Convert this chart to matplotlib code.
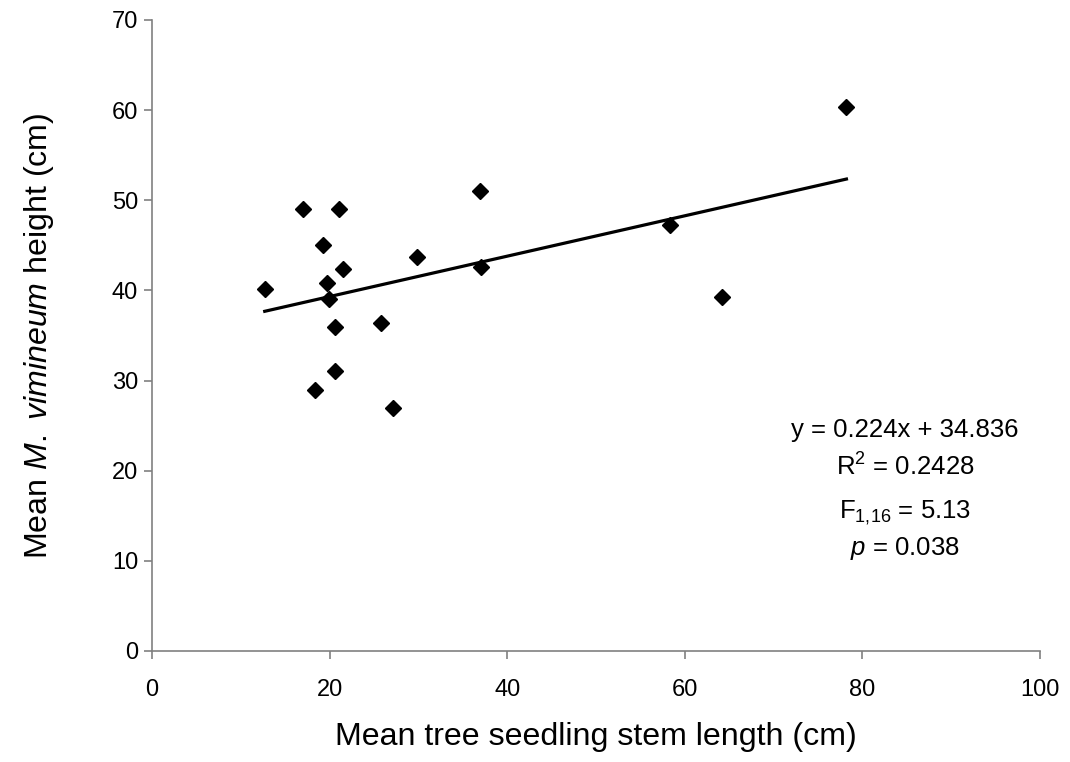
import numpy as np
import matplotlib
matplotlib.use("Agg")
import matplotlib.pyplot as plt

plt.rcParams["font.family"] = ["Liberation Sans", "DejaVu Sans"]
plt.rcParams["mathtext.fontset"] = "custom"
plt.rcParams["mathtext.rm"] = "Liberation Sans"
plt.rcParams["mathtext.it"] = "Liberation Sans:italic"

# Data
stem_length = [12.7, 17.0, 21.1, 19.3, 21.5, 19.7, 19.9, 20.6, 25.8,
               20.6, 18.4, 27.1, 29.8, 36.9, 37.1, 58.3, 64.2, 78.2]
mv_height = [40.2, 49.0, 49.0, 45.0, 42.4, 40.8, 39.1, 35.9, 36.4,
             31.1, 28.9, 26.9, 43.7, 51.0, 42.6, 47.3, 39.3, 60.3]

# trend line from the printed equation
slope = 0.224
intercept = 34.836

stats_lines = ["y = 0.224x + 34.836", r"R$^2$ = 0.2428",
               r"F$_{1{,}16}$ = 5.13", r"$\mathit{p}$ = 0.038"]
stats_y = [24.5, 20.4, 15.3, 11.4]

fig = plt.figure(figsize=(10.7, 7.62), dpi=100)
ax = fig.add_axes([0.142, 0.1457, 0.830, 0.8281])

ax.plot(stem_length, mv_height, linestyle="none", marker="D",
        markersize=8.5, color="black")

xs = np.array([min(stem_length), max(stem_length)])
ax.plot(xs, slope * xs + intercept, color="black", linewidth=2.3)

ax.set_xlim(0, 100)
ax.set_ylim(0, 70)
ax.set_xticks(range(0, 101, 20))
ax.set_yticks(range(0, 71, 10))

for side in ["top", "right"]:
    ax.spines[side].set_visible(False)
for side in ["left", "bottom"]:
    ax.spines[side].set_color("#808080")
    ax.spines[side].set_linewidth(1.2)
ax.tick_params(axis="both", colors="#808080", labelcolor="black",
               labelsize=17, length=6, width=1.2, direction="out")
ax.tick_params(axis="x", pad=14)
ax.tick_params(axis="y", pad=4)

ax.set_xlabel("Mean tree seedling stem length (cm)", fontsize=23.1,
              labelpad=15)
ax.set_ylabel(r"Mean $\mathit{M.}$ $\mathit{vimineum}$ height (cm)",
              fontsize=23.1, labelpad=40)

for txt, yy in zip(stats_lines, stats_y):
    ax.text(84.8, yy, txt, ha="center", va="center", fontsize=18.5)

fig.savefig("out.png", dpi=100)
